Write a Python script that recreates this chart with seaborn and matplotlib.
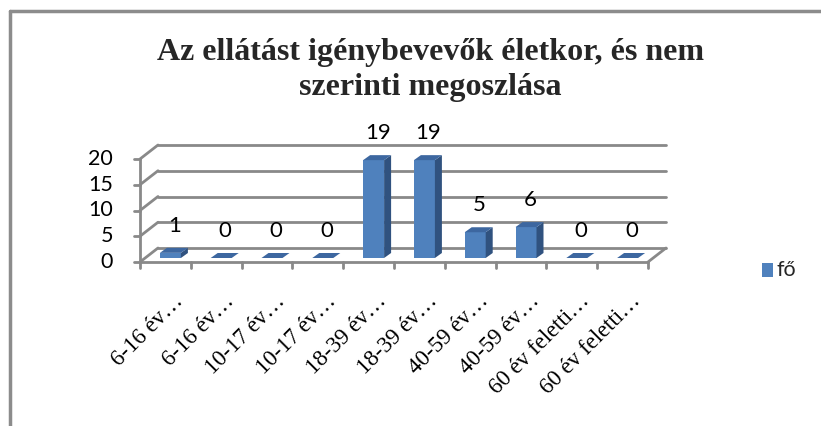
import matplotlib
matplotlib.use("Agg")
import matplotlib.pyplot as plt
from matplotlib.patches import Polygon, Rectangle
from matplotlib.lines import Line2D
import seaborn as sns
import pandas as pd
import numpy as np

# ---- data ----
tick_labels = ["6-16 év…", "6-16 év…", "10-17 év…", "10-17 év…", "18-39 év…",
               "18-39 év…", "40-59 év…", "40-59 év…", "60 év feletti…", "60 év feletti…"]
values = [1, 0, 0, 0, 19, 19, 5, 6, 0, 0]
series_name = "fő"
title_text = "Az ellátást igénybevevők életkor, és nem\nszerinti megoszlása"
y_ticks = [0, 5, 10, 15, 20]

W, H = 821, 426
sns.set_theme(style="white")
plt.rcParams["font.family"] = ["Lato", "DejaVu Sans"]

fig = plt.figure(figsize=(W / 100, H / 100), dpi=100)

# front plane of the plot box (pixels)
FX0, FX1 = 140, 648
FY0, FY1 = 262, 159   # y pixel of value 0 and 20
ax = fig.add_axes([FX0 / W, 1 - FY0 / H, (FX1 - FX0) / W, (FY0 - FY1) / H])
ax.set_xlim(-0.5, 9.5)
ax.set_ylim(0, 20)
ax.axis("off")

pxx = (FX1 - FX0) / 10.0   # px per category
pxy = (FY0 - FY1) / 20.0   # px per unit


def ddx(px):
    return px / pxx


def ddy(px):
    return px / pxy


grid_col = "#898989"
BDX, BDY = 18, 14          # back wall offset
for yv in y_ticks:
    ax.add_line(Line2D([-0.5 + ddx(BDX), 9.5 + ddx(BDX)], [yv + ddy(BDY)] * 2,
                       color=grid_col, lw=2.0, clip_on=False, zorder=1))
    ax.add_line(Line2D([-0.5, -0.5 + ddx(BDX)], [yv, yv + ddy(BDY)],
                       color=grid_col, lw=2.0, clip_on=False, zorder=1))
    ax.add_line(Line2D([-0.5 - ddx(6), -0.5], [yv, yv],
                       color=grid_col, lw=2.0, clip_on=False, zorder=1))
    ax.text(-0.5 - ddx(27), yv, str(yv), ha="right", va="center",
            fontsize=15.5, color="black")
ax.add_line(Line2D([-0.5, -0.5], [0, 20], color=grid_col, lw=2.0, clip_on=False, zorder=1))
ax.add_line(Line2D([-0.5, 9.5], [0, 0], color=grid_col, lw=2.0, clip_on=False, zorder=1))
ax.add_line(Line2D([9.5, 9.5 + ddx(BDX)], [0, ddy(BDY)], color=grid_col, lw=2.0,
                   clip_on=False, zorder=1))
for k in range(11):
    xv = -0.5 + k
    ax.add_line(Line2D([xv, xv], [0, -ddy(6)], color=grid_col, lw=2.0,
                       clip_on=False, zorder=1))

# bars (front face) via seaborn
df = pd.DataFrame({"pos": np.arange(len(values)), "val": values})
SHX, SHY = 5, 4          # plane of bar front faces
DPX, DPY = 7, 5          # bar depth
bw = 21 / pxx
sns.barplot(data=df, x="pos", y="val", native_scale=True, width=bw,
            color="#4F81BD", saturation=1, ax=ax, zorder=3, errorbar=None)
for p in list(ax.patches):
    h = p.get_height()
    x0 = p.get_x() + ddx(SHX)
    yb = ddy(SHY)
    p.set_x(x0)
    p.set_y(yb)
    p.set_linewidth(0)
    p.set_clip_on(False)
    x1 = x0 + p.get_width()
    yt = yb + h
    side = Polygon([(x1, yb), (x1 + ddx(DPX), yb + ddy(DPY)),
                    (x1 + ddx(DPX), yt + ddy(DPY)), (x1, yt)],
                   closed=True, facecolor="#30527F", edgecolor="none", zorder=3,
                   clip_on=False)
    top = Polygon([(x0, yt), (x0 + ddx(DPX), yt + ddy(DPY)),
                   (x1 + ddx(DPX), yt + ddy(DPY)), (x1, yt)],
                  closed=True, facecolor="#3D67A0", edgecolor="none", zorder=3,
                  clip_on=False)
    ax.add_patch(side)
    ax.add_patch(top)

for i, v in enumerate(values):
    ax.text(i + ddx(SHX) + ddx(4), v + ddy(SHY) + ddy(27), str(v),
            ha="center", va="center", fontsize=16, color="black")

# x tick labels
for i, lab in enumerate(tick_labels):
    ax.text(i + ddx(15), -ddy(36), lab, rotation=45, rotation_mode="anchor",
            ha="right", va="center", fontsize=16.5,
            fontfamily="Liberation Serif", color="black")

# legend
fig.patches.append(Rectangle((762 / W, 1 - 277 / H), 11 / W, 14 / H,
                             transform=fig.transFigure, facecolor="#4F81BD",
                             edgecolor="none"))
fig.text(776 / W, 1 - 270 / H, series_name, ha="left", va="center", fontsize=15.5)

# title
fig.text(430 / W, 1 - 70 / H, title_text, ha="center", va="center",
         fontsize=23, fontweight="bold", fontfamily="Liberation Serif",
         linespacing=1.3)

# chart frame (left & top edges visible)
fig.lines.append(Line2D([9.5 / W, 9.5 / W], [0, 1 - 11 / H], transform=fig.transFigure,
                        color="#8C8C8C", lw=2.5))
fig.lines.append(Line2D([9.5 / W, 1], [1 - 11 / H, 1 - 11 / H], transform=fig.transFigure,
                        color="#8C8C8C", lw=2.5))

fig.savefig("out.png", dpi=100, facecolor="white")
